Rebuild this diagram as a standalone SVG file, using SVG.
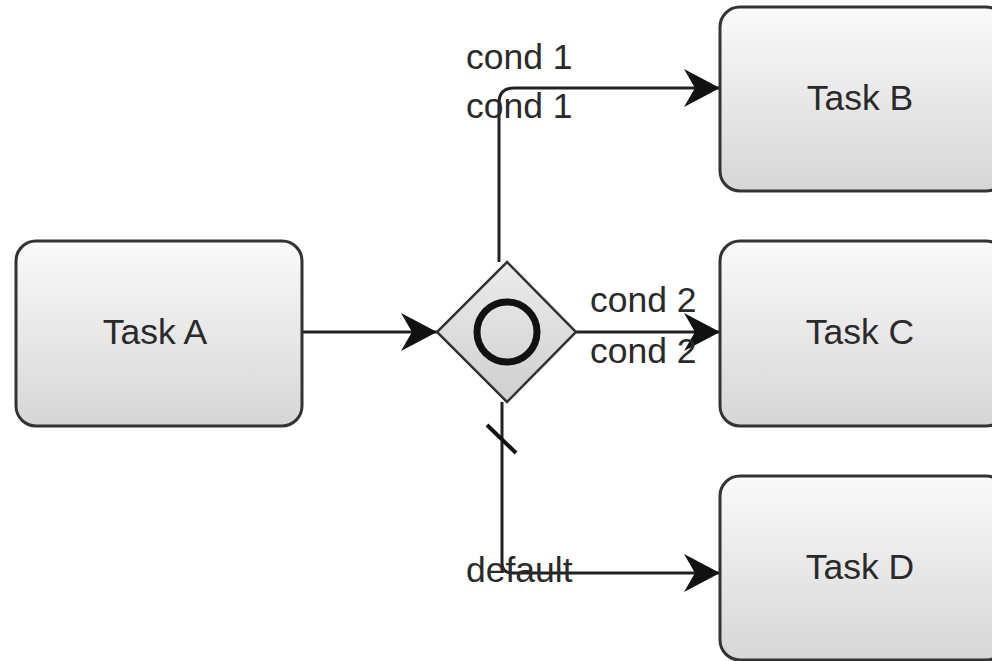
<svg xmlns="http://www.w3.org/2000/svg" width="992" height="661" viewBox="0 0 992 661">
<defs>
<linearGradient id="taskGrad" x1="0" y1="0" x2="0" y2="1">
<stop offset="0" stop-color="#fafafa"/>
<stop offset="1" stop-color="#d6d6d6"/>
</linearGradient>
<linearGradient id="gwGrad" x1="0" y1="0" x2="0" y2="1">
<stop offset="0" stop-color="#ececec"/>
<stop offset="1" stop-color="#cfcfcf"/>
</linearGradient>
<marker id="arrow" markerUnits="userSpaceOnUse" markerWidth="40" markerHeight="42" refX="36" refY="20" orient="auto" viewBox="0 0 40 42">
<path d="M0,1 L36,20 L0,39 L11,20 Z" fill="#111"/>
</marker>
<style>
.task rect{fill:url(#taskGrad);stroke:#333;stroke-width:3}
.task text,.lbl{font-family:"Liberation Sans",Arial,sans-serif;font-size:35.5px;fill:#2a2a2a}
.task text{text-anchor:middle}
.edge{fill:none;stroke:#222;stroke-width:3;marker-end:url(#arrow)}
</style>
</defs>
<rect width="992" height="661" fill="#fff"/>
<g id="edges">
<path class="edge" d="M302,332 L437,332"/>
<path class="edge" d="M499,262 L499,103 Q499,88 514,88 L720,88"/>
<path class="edge" d="M576,332 L720,332"/>
<path class="edge" d="M502,402 L502,563 Q502,573 512,573 L720,573"/>
<line x1="487" y1="425" x2="516" y2="453" stroke="#111" stroke-width="4"/>
</g>
<g id="labels">
<text class="lbl" x="466" y="69">cond 1</text>
<text class="lbl" x="466" y="118">cond 1</text>
<text class="lbl" x="590" y="312">cond 2</text>
<text class="lbl" x="590" y="363">cond 2</text>
<text class="lbl" x="466" y="582">default</text>
</g>
<g id="taskA" class="task">
<rect x="16" y="241" width="286" height="185" rx="20"/>
<text x="155" y="344">Task A</text>
</g>
<g id="taskB" class="task">
<rect x="720" y="7" width="286" height="184" rx="20"/>
<text x="860" y="110">Task B</text>
</g>
<g id="taskC" class="task">
<rect x="720" y="241" width="286" height="185" rx="20"/>
<text x="860" y="344">Task C</text>
</g>
<g id="taskD" class="task">
<rect x="720" y="476" width="286" height="184" rx="20"/>
<text x="860" y="579">Task D</text>
</g>
<g id="gateway">
<path d="M507,262 L576,332 L507,402 L437,332 Z" fill="url(#gwGrad)" stroke="#333" stroke-width="2.5"/>
<circle cx="507" cy="332" r="30" fill="none" stroke="#111" stroke-width="7"/>
</g>
</svg>
